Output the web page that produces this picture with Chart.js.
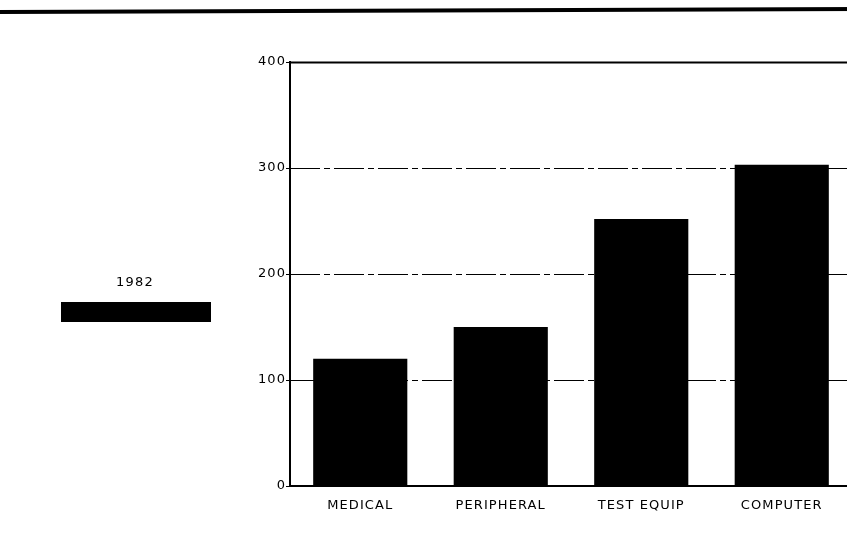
<!DOCTYPE html>
<html>
<head>
<meta charset="utf-8">
<script src="https://cdn.jsdelivr.net/npm/chart.js@4.4.1/dist/chart.umd.min.js"></script>
<style>
html,body{margin:0;padding:0;background:#fff;overflow:hidden;width:847px;height:558px;}
#wrap{position:absolute;left:0;top:0;width:860px;height:558px;}
</style>
</head>
<body>
<div id="wrap"><canvas id="c" width="860" height="558"></canvas></div>
<script>
const categories = ["MEDICAL", "PERIPHERAL", "TEST EQUIP", "COMPUTER"];
const seriesLabel = "1982";
const values1982 = [120, 150, 252, 303];
const yTicks = [0, 100, 200, 300, 400];

const FONT = "'DejaVu Sans', sans-serif";

const decor = {
  id: 'decor',
  beforeDraw(chart) {
    chart.ctx.letterSpacing = '1.1px';
  },
  beforeDatasetsDraw(chart) {
    const ctx = chart.ctx, ca = chart.chartArea, ys = chart.scales.y;
    ctx.save();
    ctx.strokeStyle = '#000';
    yTicks.forEach(v => {
      if (v === 0) return;
      const y = Math.round(ys.getPixelForValue(v)) + 0.5;
      ctx.beginPath();
      if (v === 400) { ctx.setLineDash([]); ctx.lineWidth = 2; }
      else { ctx.setLineDash([30, 4, 6, 4]); ctx.lineWidth = 1; }
      ctx.moveTo(ca.left, y); ctx.lineTo(ca.right, y);
      ctx.stroke();
    });
    ctx.restore();
  },
  afterDraw(chart) {
    const ctx = chart.ctx;
    ctx.save();
    ctx.strokeStyle = '#000';
    ctx.lineWidth = 4;
    ctx.beginPath(); ctx.moveTo(0, 12); ctx.lineTo(860, 9); ctx.stroke();
    const ds = chart.data.datasets[0];
    ctx.fillStyle = '#000';
    ctx.font = '13px ' + FONT;
    ctx.letterSpacing = '1.2px';
    ctx.textAlign = 'center'; ctx.textBaseline = 'middle';
    ctx.fillText(ds.label, 135, 283);
    ctx.fillStyle = ds.backgroundColor;
    ctx.fillRect(61, 302, 150, 20);
    ctx.restore();
  }
};

new Chart(document.getElementById('c'), {
  type: 'bar',
  data: {
    labels: categories,
    datasets: [{ label: seriesLabel, data: values1982, backgroundColor: '#000', borderWidth: 0,
      categoryPercentage: 1, barPercentage: 0.67 }]
  },
  options: {
    responsive: false, animation: false,
    layout: { padding: { top: 62, right: 8, left: 0, bottom: 0 } },
    plugins: { legend: { display: false }, tooltip: { enabled: false } },
    scales: {
      x: {
        grid: { display: false },
        border: { display: true, color: '#000', width: 2 },
        ticks: { color: '#000', font: { family: FONT, size: 13 }, padding: 4, maxRotation: 0 },
        afterFit(s) { s.height = 72; }
      },
      y: {
        min: 0, max: 400,
        afterBuildTicks(s) { s.ticks = yTicks.map(v => ({ value: v })); },
        grid: { drawOnChartArea: false, drawTicks: true, tickLength: 4, color: '#000', lineWidth: 1 },
        border: { display: true, color: '#000', width: 2 },
        ticks: { color: '#000', font: { family: FONT, size: 13 }, padding: 0 },
        afterFit(s) { s.width = 290; }
      }
    }
  },
  plugins: [decor]
});
</script>
</body>
</html>
